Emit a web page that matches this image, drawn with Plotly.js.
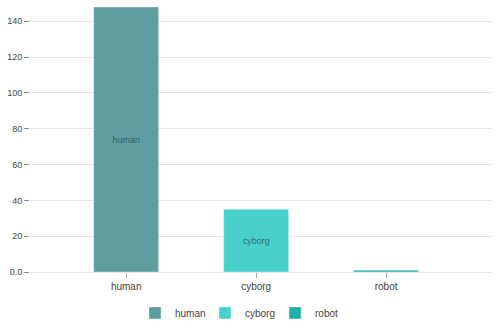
<!DOCTYPE html>
<html>
<head>
<meta charset="utf-8">
<script src="https://cdn.plot.ly/plotly-3.0.1.min.js"></script>
<style>
  html, body { margin: 0; padding: 0; background: #fff; }
  #chart { width: 500px; height: 328px; }
</style>
</head>
<body>
<div id="chart"></div>
<script>
const categories = ["human", "cyborg", "robot"];
const counts = [148, 35, 1];
const colors = ["#5F9EA0", "#48D1CC", "#20B2AA"];
const yTickValues = [0, 20, 40, 60, 80, 100, 120, 140];
const yTickLabels = ["0.0", "20", "40", "60", "80", "100", "120", "140"];

const traces = categories.map((c, i) => ({
  type: "bar",
  name: c,
  x: [c],
  y: [counts[i]],
  width: 0.5,
  text: [c],
  textposition: "inside",
  insidetextanchor: "middle",
  textfont: { family: "Liberation Sans, Arial, sans-serif", size: 9, color: "rgba(30,55,65,0.65)" },
  marker: { color: colors[i], line: { color: "rgba(255,255,255,0.35)", width: 1 } },
  hoverinfo: "x+y"
}));

const layout = {
  width: 500,
  height: 328,
  margin: { l: 30, r: 8, t: 7, b: 56, autoexpand: false },
  paper_bgcolor: "#fff",
  plot_bgcolor: "#fff",
  barmode: "overlay",
  showlegend: true,
  uniformtext: { mode: "hide", minsize: 8 },
  font: { family: "Liberation Sans, Arial, sans-serif", size: 10, color: "#444" },
  xaxis: {
    type: "category",
    categoryorder: "array",
    categoryarray: categories,
    range: [-0.74, 2.815],
    showgrid: false,
    zeroline: false,
    showline: false,
    ticks: "outside",
    ticklen: 5,
    tickcolor: "#aaa",
    tickwidth: 1,
    tickfont: { size: 10, color: "#444" },
    fixedrange: true
  },
  yaxis: {
    range: [0, 148],
    tickvals: yTickValues,
    ticktext: yTickLabels,
    showgrid: true,
    gridcolor: "#e3e3e3",
    gridwidth: 1,
    zeroline: true,
    zerolinecolor: "#e3e3e3",
    zerolinewidth: 1,
    showline: false,
    ticks: "outside",
    ticklen: 5,
    tickcolor: "#888",
    tickwidth: 1,
    tickfont: { size: 9, color: "#444" },
    fixedrange: true
  },
  legend: {
    orientation: "h",
    xref: "container",
    yref: "container",
    x: 0.48,
    xanchor: "center",
    y: 0.046,
    yanchor: "middle",
    font: { size: 10, color: "#444" },
    entrywidth: 25,
    entrywidthmode: "pixels"
  }
};

Plotly.newPlot("chart", traces, layout, { displayModeBar: false, staticPlot: true });
</script>
</body>
</html>
